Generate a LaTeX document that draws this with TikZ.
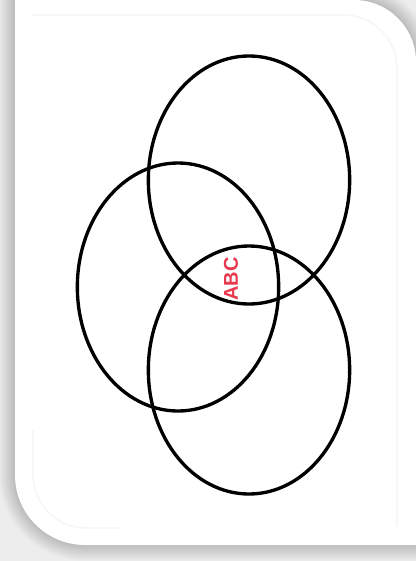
\documentclass[tikz,border=0pt]{standalone}
\usepackage{fontspec}
\setsansfont{Liberation Sans}
\usetikzlibrary{shapes.geometric}
\definecolor{abcred}{HTML}{E8394F}
\definecolor{pagegray}{HTML}{EDEDED}

\tikzset{
  setring/.style={ellipse, draw=black, line width=2.5pt, inner sep=0pt,
    minimum width=151pt, minimum height=186pt},
  setlabel/.style={font=\fontsize{15}{18}\selectfont\sffamily\bfseries,
    text=abcred, rotate=90, inner sep=0pt},
  cardline/.style={draw=gray!6, line width=1.3pt}
}

\begin{document}
\begin{tikzpicture}[x=0.75pt, y=-0.75pt]
\useasboundingbox (0,0) rectangle (416,561);
% page behind the card
\fill[pagegray] (0,0) rectangle (416,561);
% soft shadow round the card
\foreach \k in {16,15,...,1}{
  \pgfmathsetmacro{\rb}{(70+\k)*0.75}
  \pgfmathsetmacro{\rt}{(62+\k)*0.75}
  \fill[black, opacity=0.013]
    (15-\k,200) [rounded corners=\rb pt] -- (15-\k,545+\k) -- (200,545+\k)
    [sharp corners] -- (416+\k,545+\k) -- (416+\k,200)
    [rounded corners=\rt pt] -- (416+\k,-\k) -- (200,-\k)
    [sharp corners] -- (15-\k,-\k) -- cycle;
}
% card
\fill[white]
  (15,200) [rounded corners=52.5pt] -- (15,545) -- (200,545)
  [sharp corners] -- (416,545) -- (416,200)
  [rounded corners=46.5pt] -- (416,0) -- (200,0)
  [sharp corners] -- (15,0) -- cycle;
\draw[cardline] (32,15) [rounded corners=40pt] -- (397,15) -- (397,300)
  [sharp corners] -- (397,526);
\draw[cardline] (33,430) [rounded corners=40pt] -- (33,528) -- (120,528);

% the three sets
\node[setring] (setA) at (249,180) {};
\node[setring] (setB) at (178,287) {};
\node[setring] (setC) at (249,370) {};
\node[setlabel] (abc) at (231,279) {ABC};
\end{tikzpicture}
\end{document}
